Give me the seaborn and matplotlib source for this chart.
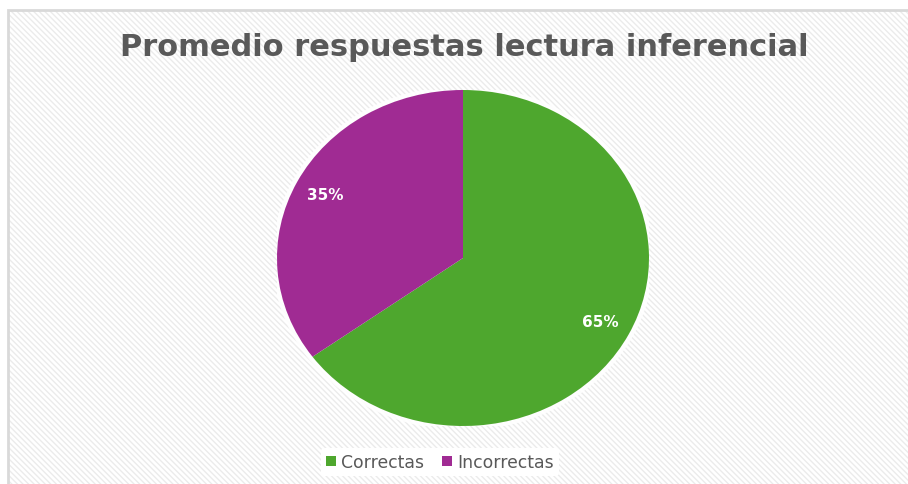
import matplotlib
matplotlib.use("Agg")
import matplotlib.pyplot as plt
from matplotlib.patches import Rectangle, Ellipse, Patch
import seaborn as sns

# chart data
labels = ["Correctas", "Incorrectas"]
values = [65, 35]
colors = ["#4EA72E", "#A02B93"]
title = "Promedio respuestas lectura inferencial"

sns.set_theme(style="white")
plt.rcParams['font.family'] = ['DejaVu Sans']

W, H = 908, 485
fig = plt.figure(figsize=(W / 100, H / 100), dpi=100)
fig.patch.set_facecolor("white")

# chart area: diagonal light stripes + thin grey border
x0 = 8 / W
bg = Rectangle((x0, -0.01), 1.0, 1 - 11 / H + 0.01, transform=fig.transFigure,
               facecolor="white", edgecolor="#ebebeb", hatch="\\\\\\\\\\\\", linewidth=0, zorder=-3)
fig.patches.append(bg)
border = Rectangle((x0, -0.01), 1.0, 1 - 11 / H + 0.01, transform=fig.transFigure,
                   facecolor="none", edgecolor="#d9d9d9", linewidth=2, zorder=-2)
fig.patches.append(border)

# pie axes (slightly stretched horizontally like the original)
cx, cy, rx, ry = 463, 259, 186, 168
ax = fig.add_axes([(cx - rx) / W, (H - cy - ry) / H, 2 * rx / W, 2 * ry / H])
ax.add_patch(Ellipse((0, 0), 2.05, 2.05, facecolor="white", edgecolor="none", alpha=0.9, zorder=0))
wedges, texts, autotexts = ax.pie(values, colors=colors, startangle=90, counterclock=False,
                                  autopct="%1.0f%%", pctdistance=0.83,
                                  wedgeprops=dict(linewidth=0),
                                  textprops=dict(color="white", fontsize=11, fontweight="bold"))
ax.set_aspect("auto")
ax.set_xlim(-1, 1)
ax.set_ylim(-1, 1)
ax.axis("off")

fig.text(464 / W, 1 - 47 / H, title, ha="center", va="center",
         fontsize=22, fontweight="bold", color="#595959")

handles = [Patch(facecolor=c, edgecolor="none", label=l) for c, l in zip(colors, labels)]
leg = fig.legend(handles=handles, loc="center", bbox_to_anchor=(440 / W, 1 - 463 / H), ncol=2,
                 frameon=True, fontsize=12.4, handlelength=0.58, handleheight=0.58,
                 handletextpad=0.3, columnspacing=1.05, borderpad=0.3)
leg.get_frame().set_facecolor("white")
leg.get_frame().set_edgecolor("none")
leg.get_frame().set_alpha(1)
for t in leg.get_texts():
    t.set_color("#595959")

fig.savefig("out.png", dpi=100)
